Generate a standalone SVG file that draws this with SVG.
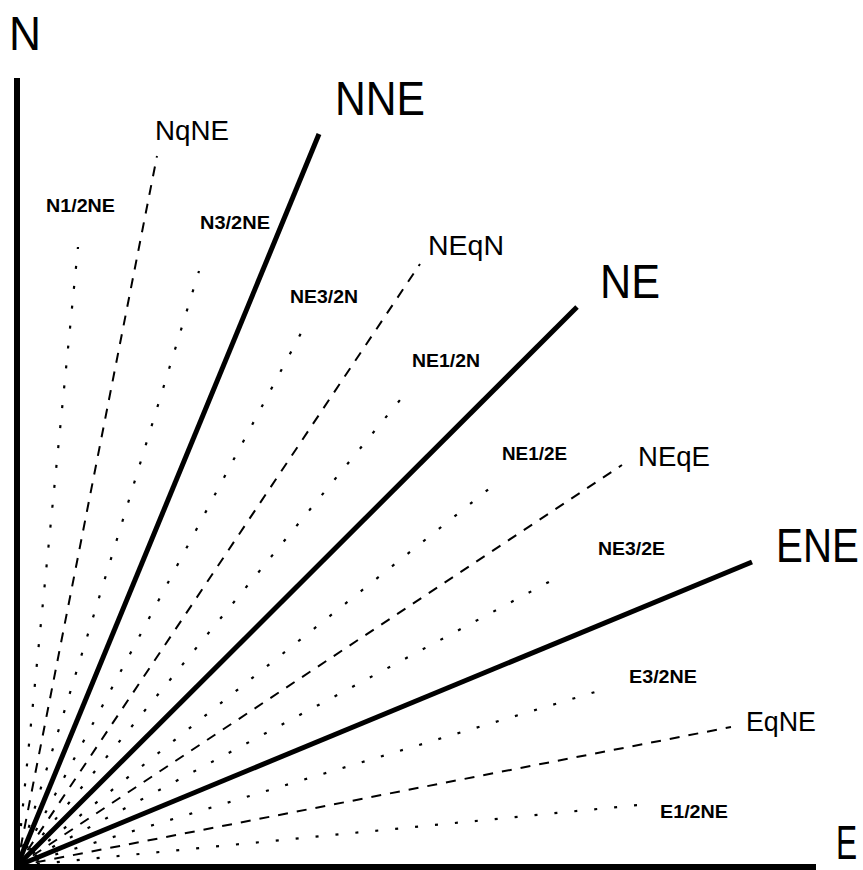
<svg xmlns="http://www.w3.org/2000/svg" width="863" height="870" viewBox="0 0 863 870">
<style>
.axis{stroke:#000;stroke-width:6;fill:none}
.thick{stroke:#000;stroke-width:5;fill:none}
.dash{stroke:#000;stroke-width:2;stroke-dasharray:10 9;fill:none}
.dot{stroke:#000;stroke-width:2.2;stroke-dasharray:3 17;fill:none}
text{font-family:"Liberation Sans",Arial,sans-serif;fill:#000}
.big{font-size:48px}
.mid{font-size:27px}
.small{font-size:19px;font-weight:bold}
</style>
<rect width="863" height="870" fill="#fff"/>
<g id="connectors">
<line class="axis" x1="17" y1="78" x2="17" y2="869"/>
<line class="axis" x1="14" y1="867" x2="816" y2="867"/>
<line class="thick" x1="17" y1="866" x2="319" y2="134"/>
<line class="thick" x1="17" y1="866" x2="577" y2="307"/>
<line class="thick" x1="17" y1="866" x2="752" y2="562"/>
<line class="dash" x1="17" y1="866" x2="157" y2="156"/>
<line class="dash" x1="17" y1="866" x2="420" y2="264"/>
<line class="dash" x1="17" y1="866" x2="622" y2="465"/>
<line class="dash" x1="17" y1="866" x2="731" y2="727"/>
<line class="dot" x1="17" y1="866" x2="78" y2="247"/>
<line class="dot" x1="17" y1="866" x2="199" y2="271"/>
<line class="dot" x1="17" y1="866" x2="308" y2="320"/>
<line class="dot" x1="17" y1="866" x2="400" y2="400"/>
<line class="dot" x1="17" y1="866" x2="490" y2="488"/>
<line class="dot" x1="17" y1="866" x2="560" y2="576"/>
<line class="dot" x1="17" y1="866" x2="605" y2="689"/>
<line class="dot" x1="17" y1="866" x2="638" y2="805"/>
</g>
<g id="N"><text class="big" x="9" y="50" textLength="32" lengthAdjust="spacingAndGlyphs">N</text></g>
<g id="NNE"><text class="big" x="335" y="115" textLength="90" lengthAdjust="spacingAndGlyphs">NNE</text></g>
<g id="NE"><text class="big" x="600" y="298" textLength="60" lengthAdjust="spacingAndGlyphs">NE</text></g>
<g id="ENE"><text class="big" transform="translate(776,562) scale(0.84,1)">ENE</text></g>
<g id="E"><text class="big" transform="translate(836,859) scale(0.66,1)">E</text></g>
<g id="NqNE"><text class="mid" x="155" y="140" textLength="74" lengthAdjust="spacingAndGlyphs">NqNE</text></g>
<g id="NEqN"><text class="mid" x="428" y="255" textLength="76" lengthAdjust="spacingAndGlyphs">NEqN</text></g>
<g id="NEqE"><text class="mid" x="638" y="466" textLength="72" lengthAdjust="spacingAndGlyphs">NEqE</text></g>
<g id="EqNE"><text class="mid" x="746" y="731" textLength="70" lengthAdjust="spacingAndGlyphs">EqNE</text></g>
<g id="N1_2NE"><text class="small" x="46" y="212" textLength="69" lengthAdjust="spacingAndGlyphs">N1/2NE</text></g>
<g id="N3_2NE"><text class="small" x="200" y="229" textLength="70" lengthAdjust="spacingAndGlyphs">N3/2NE</text></g>
<g id="NE3_2N"><text class="small" x="290" y="303" textLength="68" lengthAdjust="spacingAndGlyphs">NE3/2N</text></g>
<g id="NE1_2N"><text class="small" x="412" y="367" textLength="68" lengthAdjust="spacingAndGlyphs">NE1/2N</text></g>
<g id="NE1_2E"><text class="small" x="502" y="460" textLength="65" lengthAdjust="spacingAndGlyphs">NE1/2E</text></g>
<g id="NE3_2E"><text class="small" x="598" y="555" textLength="67" lengthAdjust="spacingAndGlyphs">NE3/2E</text></g>
<g id="E3_2NE"><text class="small" x="629" y="683" textLength="68" lengthAdjust="spacingAndGlyphs">E3/2NE</text></g>
<g id="E1_2NE"><text class="small" x="660" y="818" textLength="68" lengthAdjust="spacingAndGlyphs">E1/2NE</text></g>
</svg>
